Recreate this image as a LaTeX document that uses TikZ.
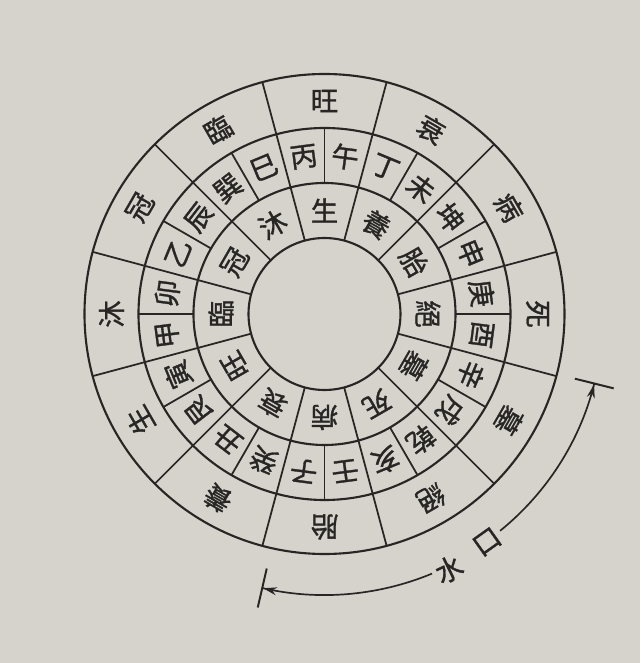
\documentclass[tikz,border=0pt]{standalone}
\usepackage{fontspec}
\newfontfamily\cjk{Noto Sans CJK TC}[FakeBold = 1.2]
\usetikzlibrary{arrows.meta}
\definecolor{paper}{RGB}{214,211,205}
\definecolor{ink}{RGB}{40,38,36}
\tikzset{x = 0.025cm, y = 0.025cm,
	 ring/.style = {draw = ink, line width = 1.5pt},
	 spoke/.style = {draw = ink, line width = 1.25pt},
	 glyph/.style = {text = ink, inner sep = 0pt,
			 font = \cjk\fontsize{19.5}{19.5}\selectfont},
	 flow/.style = {draw = ink, line width = 1.2pt,
			-{Stealth[length = 3.4mm, width = 2mm] Bar[width = 1cm, line width = 1.4pt]}}}

\begin{document}
\begin{tikzpicture}
      \fill[paper] (-324.5,-349) rectangle (315.5,314);
      \useasboundingbox (-324.5,-349) rectangle (315.5,314);
      % rings
      \foreach \r in {76, 131, 186, 240}
	\draw[ring] (0,0) circle [radius = \r];
      \foreach \a in {15, 45, ..., 345}
	\draw[spoke] (\a:76) -- (\a:131) (\a:186) -- (\a:240);
      \foreach \a in {0, 15, ..., 345}
	\draw[spoke] (\a:131) -- (\a:186);
      % outer ring
      \foreach \t [count = \k] in {旺,衰,病,死,墓,絕,胎,養,生,沐,冠,臨}
	\node[glyph, rotate = {-30*(\k-1)}] (o\k) at ({90-30*(\k-1)}:213) {\t};
      % twenty-four mountains
      \foreach \t [count = \k] in {午,丁,未,坤,申,庚,酉,辛,戌,乾,亥,壬,
				   子,癸,丑,艮,寅,甲,卯,乙,辰,巽,巳,丙}
	\node[glyph, rotate = {-7.5-15*(\k-1)}] (m\k) at ({82.5-15*(\k-1)}:158.5) {\t};
      % inner ring
      \foreach \t [count = \k] in {生,養,胎,絕,墓,死,病,衰,旺,臨,冠,沐}
	\node[glyph, rotate = {-30*(\k-1)}] (i\k) at ({90-30*(\k-1)}:103.5) {\t};
      % water mouth
      \node[glyph, rotate = 26] (shui) at (-64:284) {水};
      \node[glyph, rotate = 35.5] (kou) at (-54.5:280) {口};
      \draw[flow] (-51:279) arc [start angle = -51, end angle = -14, radius = 277];
      \draw[flow] (-67.5:281) arc [start angle = -67.5, end angle = -103, radius = 281];
    \end{tikzpicture}
\end{document}
